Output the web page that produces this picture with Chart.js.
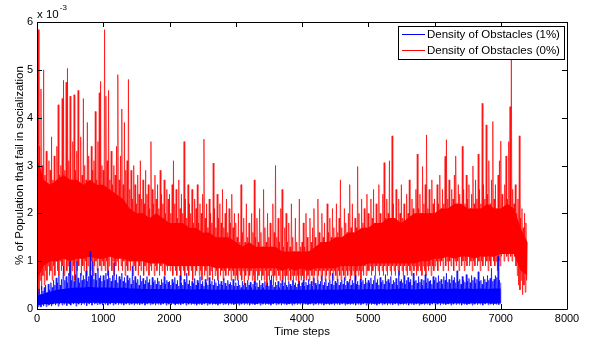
<!DOCTYPE html>
<html>
<head>
<meta charset="utf-8">
<script src="https://cdn.jsdelivr.net/npm/chart.js@4.4.1/dist/chart.umd.min.js"></script>
<style>
  body { margin: 0; background: #fff; }
  canvas { display: block; }
</style>
</head>
<body>
<canvas id="chart" width="593" height="339"></canvas>
<script>
// Values are in units of 10^-3.
// Both traces: one reading every 10 time steps.
// Core bands (where a trace is solid colour): one reading every 100 time steps.
const stepSize = 10;
const bandStep = 100;

const xTicks = [0, 1000, 2000, 3000, 4000, 5000, 6000, 7000, 8000];
const yTicks = [0, 1, 2, 3, 4, 5, 6];

const seriesNames = ['Density of Obstacles (1%)', 'Density of Obstacles (0%)'];

// Density of Obstacles (0%), red
const red0 = [3.7, 0.5, 5.84, 0.3, 3.4, 0.6, 4.6, 0.4, 3.0, 0.7,
  5.0, 0.5, 2.8, 0.8, 3.3, 0.6, 2.6, 0.9, 3.1, 0.7,
  2.9, 0.8, 3.6, 0.6, 2.7, 0.9, 3.2, 0.7, 2.5, 1.0,
  3.4, 0.8, 4.27, 0.7, 2.8, 1.0, 3.0, 0.8, 4.4, 0.9,
  4.78, 0.7, 2.9, 1.1, 4.74, 0.8, 5.03, 0.9, 3.1, 0.7,
  4.45, 1.0, 2.7, 0.8, 3.5, 0.9, 4.48, 0.6, 2.9, 1.0,
  3.3, 0.8, 4.57, 0.9, 2.6, 1.1, 3.6, 0.7, 2.8, 0.9,
  4.4, 0.8, 3.0, 1.0, 2.7, 0.7, 3.9, 0.9, 3.2, 1.1,
  2.6, 0.8, 3.4, 1.0, 2.9, 0.7, 3.1, 0.9, 4.13, 1.0,
  2.7, 0.8, 3.5, 1.1, 4.52, 0.9, 4.76, 0.8, 3.0, 1.0];
const red1000 = [2.9, 0.9, 5.84, 0.8, 4.45, 1.0, 3.1, 0.7, 4.57, 0.9,
  2.7, 1.1, 3.3, 0.8, 2.6, 1.0, 3.0, 0.7, 2.8, 0.9,
  3.4, 1.0, 4.9, 0.8, 2.7, 1.1, 3.2, 0.9, 4.18, 0.8,
  2.6, 1.0, 3.9, 0.7, 2.9, 0.9, 3.1, 0.8, 4.8, 1.0,
  2.5, 0.8, 2.9, 1.0, 2.3, 0.7, 3.0, 0.9, 2.6, 0.8,
  2.2, 1.0, 2.8, 0.7, 2.4, 0.9, 3.1, 0.8, 2.3, 1.0,
  2.7, 0.7, 2.2, 0.9, 2.9, 0.8, 2.4, 1.0, 2.6, 0.7,
  2.1, 0.9, 3.5, 0.8, 2.5, 1.0, 2.2, 0.7, 2.8, 0.9,
  2.3, 0.8, 2.6, 1.0, 2.1, 0.7, 2.9, 0.9, 2.4, 0.8,
  2.2, 1.0, 2.7, 0.7, 2.0, 0.9, 2.5, 0.8, 2.3, 0.9];
const red2000 = [2.4, 0.8, 2.0, 0.9, 2.6, 0.7, 3.1, 0.9, 2.2, 0.8,
  2.5, 0.7, 1.9, 0.9, 2.7, 0.8, 2.1, 0.6, 2.4, 0.9,
  2.0, 0.8, 3.5, 0.7, 2.3, 0.9, 1.9, 0.8, 2.6, 0.7,
  2.2, 0.9, 2.0, 0.8, 2.5, 0.6, 1.8, 0.9, 2.3, 0.7,
  2.1, 0.8, 2.6, 0.9, 1.8, 0.7, 2.2, 0.8, 2.0, 0.6,
  2.4, 0.9, 3.55, 0.7, 1.9, 0.8, 2.2, 0.6, 1.7, 0.9,
  2.3, 0.7, 2.0, 0.8, 1.8, 0.6, 3.05, 0.9, 2.1, 0.7,
  1.7, 0.8, 2.4, 0.6, 1.9, 0.9, 2.2, 0.7, 1.8, 0.8,
  2.5, 0.6, 1.7, 0.8, 2.0, 0.7, 2.3, 0.9, 1.6, 0.7,
  2.1, 0.8, 1.8, 0.6, 2.4, 0.8, 1.7, 0.7, 2.0, 0.6];
const red3000 = [1.8, 0.7, 1.5, 0.6, 2.0, 0.8, 1.4, 0.7, 2.6, 0.6,
  1.6, 0.8, 1.9, 0.5, 1.4, 0.7, 2.2, 0.8, 1.5, 0.6,
  1.8, 0.7, 1.3, 0.8, 2.0, 0.6, 1.6, 0.7, 2.7, 0.5,
  1.5, 0.8, 1.9, 0.6, 1.4, 0.7, 2.1, 0.8, 1.6, 0.6,
  1.3, 0.7, 2.5, 0.6, 1.7, 0.8, 1.4, 0.5, 2.0, 0.7,
  1.5, 0.6, 1.8, 0.8, 1.3, 0.7, 2.2, 0.5, 1.6, 0.7,
  3.0, 0.6, 1.5, 0.8, 1.9, 0.7, 1.4, 0.6, 2.1, 0.8,
  2.5, 0.6, 1.3, 0.7, 1.7, 0.5, 2.0, 0.7, 1.4, 0.6,
  1.8, 0.8, 1.3, 0.6, 2.2, 0.7, 1.5, 0.5, 1.2, 0.7,
  1.9, 0.6, 1.4, 0.7, 1.2, 0.5, 2.3, 0.7, 1.3, 0.6];
const red4000 = [1.4, 0.7, 1.8, 0.6, 1.3, 0.8, 2.0, 0.6, 1.5, 0.7,
  1.2, 0.6, 1.9, 0.8, 1.4, 0.7, 1.7, 0.5, 2.1, 0.7,
  1.5, 0.8, 1.3, 0.6, 2.3, 0.7, 1.6, 0.8, 1.4, 0.6,
  2.0, 0.7, 1.5, 0.8, 1.8, 0.6, 1.4, 0.7, 2.2, 0.8,
  1.6, 0.6, 1.9, 0.7, 1.5, 0.8, 2.1, 0.6, 1.7, 0.8,
  1.4, 0.7, 2.2, 0.6, 1.6, 0.8, 1.9, 0.7, 2.7, 0.6,
  1.7, 0.8, 1.5, 0.7, 2.1, 0.6, 1.8, 0.8, 1.6, 0.7,
  2.0, 0.8, 2.6, 0.6, 1.7, 0.7, 2.2, 0.8, 1.6, 0.7,
  1.9, 0.6, 1.7, 0.8, 2.98, 0.7, 2.0, 0.8, 1.6, 0.6,
  2.3, 0.8, 1.8, 0.7, 2.1, 0.9, 1.7, 0.7, 2.4, 0.8];
const red5000 = [2.0, 0.8, 1.7, 0.9, 2.3, 0.7, 1.9, 0.8, 2.5, 0.9,
  1.8, 0.7, 2.2, 0.9, 1.7, 0.8, 2.6, 0.7, 2.0, 0.9,
  1.8, 0.8, 2.4, 0.7, 3.06, 0.9, 1.9, 0.8, 2.3, 0.7,
  2.0, 0.9, 3.1, 0.8, 1.8, 0.7, 3.62, 0.9, 2.2, 0.8,
  1.9, 0.7, 2.5, 0.9, 1.8, 0.8, 2.3, 0.7, 2.0, 0.9,
  2.6, 0.8, 1.9, 0.7, 2.2, 0.9, 1.8, 0.8, 2.4, 0.7,
  2.0, 0.9, 2.7, 0.8, 1.9, 0.7, 2.3, 0.9, 2.1, 0.8,
  1.9, 0.9, 2.5, 0.7, 3.24, 0.8, 2.1, 0.9, 2.4, 0.8,
  2.0, 0.7, 2.98, 0.9, 2.2, 0.8, 2.6, 0.7, 3.64, 0.9,
  2.1, 0.8, 2.5, 0.9, 2.0, 0.7, 2.7, 0.9, 2.2, 0.8];
const red6000 = [2.3, 0.9, 2.0, 1.0, 2.6, 0.8, 2.2, 1.0, 2.8, 0.9,
  2.1, 1.0, 2.5, 0.8, 2.2, 1.1, 3.19, 0.9, 3.54, 1.0,
  2.3, 0.8, 2.7, 1.0, 2.1, 0.9, 2.5, 1.1, 2.3, 0.8,
  2.8, 1.0, 3.2, 0.9, 2.2, 1.0, 2.6, 0.8, 2.4, 1.1,
  2.1, 0.9, 3.4, 1.0, 2.5, 0.8, 2.2, 1.0, 2.8, 0.9,
  2.3, 1.1, 2.6, 0.9, 2.1, 1.0, 2.4, 0.8, 2.99, 1.0,
  2.2, 0.9, 2.7, 1.1, 2.3, 0.9, 3.24, 1.0, 2.5, 0.8,
  2.2, 1.0, 4.3, 0.9, 2.6, 1.1, 2.3, 0.9, 3.85, 1.0,
  2.4, 0.8, 3.1, 1.0, 2.2, 0.9, 2.7, 1.1, 3.92, 1.0,
  2.3, 0.9, 2.6, 1.0, 2.1, 0.8, 2.8, 1.0, 3.1, 0.9];
const red7000 = [3.51, 1.1, 2.4, 1.2, 2.1, 1.0, 2.6, 1.2, 3.2, 1.1,
  2.3, 1.0, 3.5, 1.2, 4.23, 1.1, 5.3, 1.0, 2.5, 1.2,
  2.2, 1.1, 2.6, 0.9, 2.0, 0.7, 2.3, 0.5, 3.62, 0.4,
  1.9, 0.6, 2.1, 0.3, 1.7, 0.5, 2.0, 0.35, 1.8, 0.6,
  1.4];

// solid part of the red trace, upper and lower edge
const redCoreTop = [3.2, 2.7, 2.6, 2.7, 2.8, 2.7, 2.7, 2.6, 2.7, 2.6,
  2.6, 2.5, 2.4, 2.3, 2.1, 2.0, 2.0, 1.9, 2.0, 1.9,
  1.8, 1.8, 1.8, 1.7, 1.7, 1.6, 1.6, 1.5, 1.5, 1.5,
  1.4, 1.3, 1.4, 1.3, 1.3, 1.3, 1.3, 1.2, 1.2, 1.2,
  1.2, 1.2, 1.3, 1.4, 1.4, 1.5, 1.5, 1.6, 1.6, 1.7,
  1.7, 1.8, 1.8, 1.9, 1.9, 1.8, 1.9, 2.0, 2.0, 2.0,
  2.0, 2.1, 2.1, 2.2, 2.2, 2.1, 2.1, 2.1, 2.2, 2.1,
  2.1, 2.2, 2.1, 1.7, 1.4];
const redCoreBottom = [0.6, 0.9, 1.0, 1.0, 1.05, 1.0, 1.05, 1.05, 1.1, 1.05,
  1.05, 1.1, 1.05, 1.05, 1.0, 1.0, 1.0, 0.95, 0.95, 0.95,
  0.9, 0.9, 0.9, 0.9, 0.9, 0.9, 0.9, 0.85, 0.85, 0.85,
  0.85, 0.85, 0.85, 0.85, 0.85, 0.85, 0.85, 0.8, 0.85, 0.8,
  0.85, 0.8, 0.85, 0.85, 0.85, 0.85, 0.9, 0.9, 0.9, 0.9,
  0.95, 0.95, 0.95, 0.95, 0.95, 0.95, 0.95, 0.95, 1.0, 1.0,
  1.05, 1.05, 1.1, 1.05, 1.1, 1.1, 1.05, 1.1, 1.1, 1.1,
  1.15, 1.15, 1.15, 0.8, 0.7];

// Density of Obstacles (1%), blue
const blue0 = [0.1, 0.35, 0.05, 0.42, 0.08, 0.3, 0.04, 0.48, 0.1, 0.38,
  0.06, 0.45, 0.12, 0.5, 0.05, 0.35, 0.1, 0.52, 0.08, 0.4,
  0.12, 0.55, 0.06, 0.45, 0.1, 0.6, 0.14, 0.5, 0.08, 0.65,
  0.12, 0.55, 0.06, 0.7, 0.1, 0.5, 0.15, 0.62, 0.08, 0.55,
  0.9, 0.1, 0.6, 0.14, 0.68, 0.07, 0.55, 0.12, 0.75, 0.1,
  1.0, 0.08, 0.6, 0.15, 0.7, 0.1, 0.58, 0.13, 0.72, 0.06,
  1.0, 0.12, 0.65, 0.1, 0.55, 0.15, 0.75, 0.08, 0.6, 0.12,
  0.7, 0.1, 0.62, 0.14, 0.8, 0.07, 0.58, 0.12, 0.68, 0.1,
  1.2, 0.13, 0.7, 0.08, 1.0, 0.15, 0.62, 0.1, 0.75, 0.12,
  0.6, 0.09, 0.85, 0.14, 0.65, 0.1, 0.7, 0.12, 0.58, 0.08];
const blue1000 = [0.7, 0.12, 0.6, 0.1, 0.75, 0.14, 0.62, 0.08, 0.8, 0.12,
  0.65, 0.1, 0.58, 0.15, 0.7, 0.08, 0.97, 0.12, 0.6, 0.1,
  0.72, 0.14, 0.55, 0.09, 0.68, 0.12, 0.62, 0.1, 0.75, 0.13,
  0.58, 0.08, 0.66, 0.12, 0.55, 0.1, 0.7, 0.14, 0.6, 0.09,
  0.65, 0.12, 0.52, 0.1, 0.9, 0.13, 0.6, 0.08, 0.68, 0.12,
  0.55, 0.1, 0.62, 0.14, 0.5, 0.09, 0.7, 0.12, 0.58, 0.1,
  0.64, 0.13, 0.52, 0.08, 0.6, 0.12, 0.68, 0.1, 0.55, 0.14,
  0.62, 0.09, 0.5, 0.12, 0.66, 0.1, 0.56, 0.13, 0.6, 0.08,
  0.52, 0.12, 0.65, 0.1, 0.58, 0.14, 0.5, 0.09, 0.62, 0.12,
  0.55, 0.1, 0.68, 0.13, 0.52, 0.08, 0.6, 0.12, 0.56, 0.1];
const blue2000 = [0.58, 0.12, 0.5, 0.09, 0.62, 0.13, 0.55, 0.1, 0.66, 0.08,
  0.52, 0.12, 0.6, 0.1, 0.48, 0.14, 0.7, 0.09, 0.55, 0.12,
  0.5, 0.1, 0.62, 0.13, 0.56, 0.08, 0.75, 0.12, 0.52, 0.1,
  0.6, 0.14, 0.48, 0.09, 0.58, 0.12, 0.54, 0.1, 0.64, 0.13,
  0.5, 0.08, 0.6, 0.12, 0.55, 0.1, 0.68, 0.14, 0.52, 0.09,
  0.58, 0.12, 0.48, 0.1, 0.62, 0.13, 0.55, 0.08, 0.5, 0.12,
  0.66, 0.1, 0.52, 0.14, 0.58, 0.09, 0.5, 0.12, 0.62, 0.1,
  0.55, 0.13, 0.48, 0.08, 0.6, 0.12, 0.52, 0.1, 0.58, 0.14,
  0.5, 0.09, 0.64, 0.12, 0.54, 0.1, 0.48, 0.13, 0.6, 0.08,
  0.52, 0.12, 0.56, 0.1, 0.5, 0.14, 0.62, 0.09, 0.48, 0.12];
const blue3000 = [0.55, 0.1, 0.48, 0.13, 0.6, 0.08, 0.5, 0.12, 0.45, 0.1,
  0.58, 0.14, 0.5, 0.09, 0.54, 0.12, 0.46, 0.1, 0.6, 0.13,
  0.5, 0.08, 0.56, 0.12, 0.45, 0.1, 0.52, 0.14, 0.58, 0.09,
  0.48, 0.12, 0.55, 0.1, 0.46, 0.13, 0.6, 0.08, 0.5, 0.12,
  0.54, 0.1, 0.45, 0.14, 0.58, 0.09, 0.5, 0.12, 0.55, 0.1,
  0.48, 0.13, 0.6, 0.08, 0.7, 0.12, 0.5, 0.1, 0.46, 0.14,
  0.56, 0.09, 0.5, 0.12, 0.58, 0.1, 0.45, 0.13, 0.54, 0.08,
  0.6, 0.12, 0.48, 0.1, 0.55, 0.14, 0.5, 0.09, 0.46, 0.12,
  0.58, 0.1, 0.52, 0.13, 0.48, 0.08, 0.6, 0.12, 0.5, 0.1,
  0.55, 0.14, 0.46, 0.09, 0.52, 0.12, 0.58, 0.1, 0.48, 0.13];
const blue4000 = [0.55, 0.08, 0.6, 0.12, 0.48, 0.1, 0.56, 0.14, 0.5, 0.09,
  0.62, 0.12, 0.52, 0.1, 0.58, 0.13, 0.48, 0.08, 0.65, 0.12,
  0.54, 0.1, 0.5, 0.14, 0.6, 0.09, 0.52, 0.12, 0.58, 0.1,
  0.7, 0.13, 0.5, 0.08, 0.56, 0.12, 0.62, 0.1, 0.48, 0.14,
  0.55, 0.09, 0.6, 0.12, 0.52, 0.1, 0.75, 0.13, 0.5, 0.08,
  0.58, 0.12, 0.54, 0.1, 0.62, 0.14, 0.5, 0.09, 0.56, 0.12,
  0.6, 0.1, 0.52, 0.13, 0.66, 0.08, 0.5, 0.12, 0.58, 0.1,
  0.55, 0.14, 0.62, 0.09, 0.5, 0.12, 0.6, 0.1, 0.54, 0.13,
  0.7, 0.08, 0.52, 0.12, 0.58, 0.1, 0.5, 0.14, 0.62, 0.09,
  0.56, 0.12, 0.6, 0.1, 0.52, 0.13, 0.65, 0.08, 0.55, 0.12];
const blue5000 = [0.6, 0.1, 0.55, 0.14, 0.65, 0.09, 0.52, 0.12, 0.6, 0.1,
  0.7, 0.13, 0.55, 0.08, 0.62, 0.12, 0.5, 0.1, 0.66, 0.14,
  0.56, 0.09, 0.6, 0.12, 0.52, 0.1, 0.72, 0.13, 0.58, 0.08,
  0.62, 0.12, 0.55, 0.1, 0.68, 0.14, 0.52, 0.09, 0.6, 0.12,
  0.56, 0.1, 0.64, 0.13, 0.5, 0.08, 0.8, 0.12, 0.58, 0.1,
  0.62, 0.14, 0.55, 0.09, 0.7, 0.12, 0.52, 0.1, 0.6, 0.13,
  0.66, 0.08, 0.56, 0.12, 0.62, 0.1, 0.5, 0.14, 0.75, 0.09,
  0.58, 0.12, 0.6, 0.1, 0.54, 0.13, 0.68, 0.08, 0.56, 0.12,
  0.62, 0.1, 0.5, 0.14, 0.6, 0.09, 0.72, 0.12, 0.55, 0.1,
  0.64, 0.13, 0.58, 0.08, 0.6, 0.12, 0.52, 0.1, 0.68, 0.14];
const blue6000 = [0.6, 0.09, 0.66, 0.12, 0.55, 0.1, 0.7, 0.13, 0.58, 0.08,
  0.62, 0.12, 0.52, 0.1, 0.68, 0.14, 0.6, 0.09, 0.75, 0.12,
  0.56, 0.1, 0.62, 0.13, 0.54, 0.08, 0.7, 0.12, 0.6, 0.1,
  0.66, 0.14, 0.55, 0.09, 0.8, 0.12, 0.58, 0.1, 0.62, 0.13,
  0.52, 0.08, 0.68, 0.12, 0.6, 0.1, 0.56, 0.14, 0.72, 0.09,
  0.58, 0.12, 0.64, 0.1, 0.55, 0.13, 0.7, 0.08, 0.6, 0.12,
  0.66, 0.1, 0.54, 0.14, 0.62, 0.09, 0.78, 0.12, 0.58, 0.1,
  0.6, 0.13, 0.52, 0.08, 0.68, 0.12, 0.62, 0.1, 0.56, 0.14,
  0.7, 0.09, 0.6, 0.12, 0.64, 0.1, 0.85, 0.13, 0.58, 0.08,
  0.62, 0.12, 0.7, 0.1, 0.66, 0.14, 1.1, 0.09, 0.6, 0.12];
const blue7000 = [0.55];

// solid part of the blue trace
const blueCoreTop = [0.28, 0.32, 0.36, 0.4, 0.42, 0.44, 0.45, 0.45, 0.46, 0.45,
  0.45, 0.45, 0.44, 0.45, 0.43, 0.43, 0.42, 0.42, 0.42, 0.42,
  0.42, 0.41, 0.42, 0.41, 0.41, 0.42, 0.41, 0.4, 0.41, 0.4,
  0.4, 0.41, 0.4, 0.4, 0.41, 0.4, 0.4, 0.4, 0.4, 0.4,
  0.4, 0.4, 0.41, 0.4, 0.41, 0.4, 0.41, 0.42, 0.41, 0.41,
  0.42, 0.41, 0.42, 0.41, 0.42, 0.43, 0.42, 0.41, 0.42, 0.43,
  0.42, 0.43, 0.42, 0.43, 0.42, 0.43, 0.42, 0.43, 0.42, 0.43,
  0.43];
const blueCoreBottom = [0.08, 0.1, 0.1, 0.12, 0.12, 0.12, 0.12, 0.13, 0.13, 0.13,
  0.13, 0.12, 0.13, 0.12, 0.12, 0.12, 0.12, 0.12, 0.12, 0.12,
  0.12, 0.11, 0.12, 0.12, 0.11, 0.12, 0.12, 0.11, 0.12, 0.12,
  0.11, 0.12, 0.12, 0.11, 0.12, 0.11, 0.12, 0.12, 0.11, 0.12,
  0.12, 0.11, 0.12, 0.12, 0.11, 0.12, 0.12, 0.11, 0.12, 0.12,
  0.12, 0.11, 0.12, 0.12, 0.12, 0.11, 0.12, 0.12, 0.11, 0.12,
  0.12, 0.12, 0.11, 0.12, 0.12, 0.11, 0.12, 0.12, 0.12, 0.11,
  0.12];

const redValues = [].concat(red0, red1000, red2000, red3000, red4000, red5000, red6000, red7000);
const blueValues = [].concat(blue0, blue1000, blue2000, blue3000, blue4000, blue5000, blue6000, blue7000);

function toPoints(values, step) {
    return values.map((v, i) => ({ x: i * step, y: v }));
}

const FONT = "Arial, 'Liberation Sans', sans-serif";
const RED = '#ff0000';
const BLUE = '#0000ff';

function traceSet(label, values, color, order) {
    return {
        label: label,
        data: toPoints(values, stepSize),
        borderColor: color,
        borderWidth: 0.7,
        pointRadius: 0,
        tension: 0,
        fill: false,
        order: order
    };
}

// two of these in a row make a filled band, the first one fills down to the next
function bandSet(values, color, order, fillTo) {
    return {
        label: '',
        data: toPoints(values, bandStep),
        borderWidth: 0,
        borderColor: 'rgba(0,0,0,0)',
        backgroundColor: color,
        pointRadius: 0,
        tension: 0,
        fill: fillTo,
        order: order
    };
}

// Matlab style box with inward ticks on all four sides
const frameBox = {
    id: 'frameBox',
    afterDatasetsDraw(chart) {
        const { ctx, chartArea: a, scales } = chart;
        const len = 5;
        ctx.save();
        ctx.strokeStyle = '#000';
        ctx.lineWidth = 1;
        ctx.beginPath();
        ctx.rect(Math.round(a.left) + 0.5, Math.round(a.top) + 0.5,
            Math.round(a.right - a.left), Math.round(a.bottom - a.top));
        xTicks.forEach(t => {
            const x = Math.round(scales.x.getPixelForValue(t)) + 0.5;
            ctx.moveTo(x, a.bottom); ctx.lineTo(x, a.bottom - len);
            ctx.moveTo(x, a.top); ctx.lineTo(x, a.top + len);
        });
        yTicks.forEach(t => {
            const y = Math.round(scales.y.getPixelForValue(t)) + 0.5;
            ctx.moveTo(a.left, y); ctx.lineTo(a.left + len, y);
            ctx.moveTo(a.right, y); ctx.lineTo(a.right - len, y);
        });
        ctx.stroke();

        // exponent label above the y axis
        ctx.fillStyle = '#000';
        ctx.textBaseline = 'middle';
        ctx.textAlign = 'left';
        ctx.font = '11.5px ' + FONT;
        ctx.fillText('x 10', a.left, 15);
        const w = ctx.measureText('x 10').width;
        ctx.font = '8px ' + FONT;
        ctx.fillText('-3', a.left + w + 1, 8);
        ctx.restore();
    },
    afterDraw(chart) {
        // legend box in the top right corner
        const { ctx, chartArea: a } = chart;
        const colors = [BLUE, RED];
        const boxRight = a.right - 3;
        const boxLeft = 398;
        const boxTop = a.top + 4;
        const rowH = 16;
        ctx.save();
        ctx.fillStyle = '#fff';
        ctx.fillRect(boxLeft, boxTop, boxRight - boxLeft, rowH * 2 + 1);
        ctx.strokeStyle = '#000';
        ctx.lineWidth = 1;
        ctx.strokeRect(boxLeft + 0.5, boxTop + 0.5, boxRight - boxLeft, rowH * 2 + 1);
        ctx.font = '11.5px ' + FONT;
        ctx.textBaseline = 'middle';
        ctx.textAlign = 'left';
        seriesNames.forEach((name, i) => {
            const y = boxTop + 8.5 + i * rowH;
            ctx.strokeStyle = colors[i];
            ctx.beginPath();
            ctx.moveTo(boxLeft + 4, y);
            ctx.lineTo(boxLeft + 27, y);
            ctx.stroke();
            ctx.fillStyle = '#000';
            ctx.fillText(name, boxLeft + 29, y);
        });
        ctx.restore();
    }
};

const ctx = document.getElementById('chart').getContext('2d');

new Chart(ctx, {
    type: 'line',
    data: {
        datasets: [
            traceSet(seriesNames[0], blueValues, BLUE, 0),
            bandSet(blueCoreTop, BLUE, 1, '+1'),
            bandSet(blueCoreBottom, BLUE, 1, false),
            traceSet(seriesNames[1], redValues, RED, 2),
            bandSet(redCoreTop, RED, 3, '+1'),
            bandSet(redCoreBottom, RED, 3, false)
        ]
    },
    options: {
        responsive: false,
        animation: false,
        layout: { padding: { top: 22, right: 26, left: 0, bottom: 0 } },
        plugins: {
            legend: { display: false },
            tooltip: { enabled: false }
        },
        scales: {
            x: {
                type: 'linear',
                min: 0,
                max: 8000,
                afterBuildTicks: s => { s.ticks = xTicks.map(v => ({ value: v })); },
                afterFit: s => { s.height = 30; },
                grid: { display: false, drawTicks: false },
                border: { display: false },
                ticks: { color: '#000', font: { family: FONT, size: 11 }, padding: 3, maxRotation: 0, autoSkip: false, callback: v => String(v) },
                title: { display: true, text: 'Time steps', color: '#000', font: { family: FONT, size: 11.5 }, padding: { top: 0, bottom: 0 } }
            },
            y: {
                min: 0,
                max: 6,
                afterBuildTicks: s => { s.ticks = yTicks.map(v => ({ value: v })); },
                afterFit: s => { s.width = 37; },
                grid: { display: false, drawTicks: false },
                border: { display: false },
                ticks: { color: '#000', font: { family: FONT, size: 11 }, padding: 4, callback: v => String(v) },
                title: { display: true, text: '% of Population that fail in socialization', color: '#000', font: { family: FONT, size: 11.5 }, padding: { top: 13, bottom: 0 } }
            }
        }
    },
    plugins: [frameBox]
});
</script>
</body>
</html>
